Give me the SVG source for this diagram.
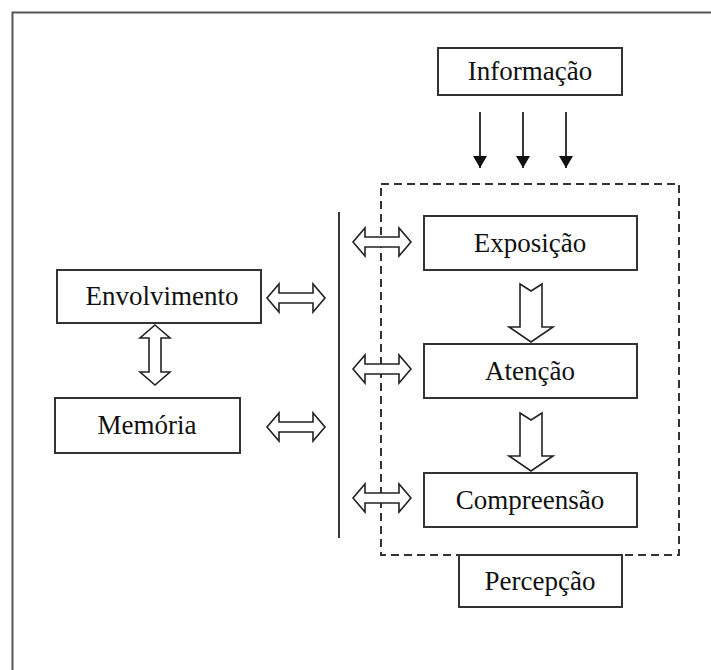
<svg xmlns="http://www.w3.org/2000/svg" width="711" height="670" viewBox="0 0 711 670">
<style>
.box{fill:#fff;stroke:#333;stroke-width:2}
.lbl{font-family:"Liberation Serif","Times New Roman",serif;font-size:27px;fill:#111;text-anchor:middle}
.arr{fill:#fff;stroke:#222;stroke-width:1.6;stroke-linejoin:miter}
.ln{stroke:#222;stroke-width:1.8;fill:none}
</style>
<defs>
<marker id="ah" viewBox="0 0 12 14" refX="12" refY="7" markerWidth="12" markerHeight="14" markerUnits="userSpaceOnUse" orient="auto">
<path d="M0,0 L12,7 L0,14 Z" fill="#111"/>
</marker>
<path id="hdbl" class="arr" d="M-29,0 L-17,-14 L-17,-5 L17,-5 L17,-14 L29,0 L17,14 L17,5 L-17,5 L-17,14 Z"/>
<path id="vdbl" class="arr" d="M0,-30 L15,-17 L6,-17 L6,17 L15,17 L0,30 L-15,17 L-6,17 L-6,-17 L-15,-17 Z"/>
<path id="down" class="arr" d="M-11,0 L0,7 L11,0 L11,43 L22,43 L0,58 L-22,43 L-11,43 Z"/>
</defs>
<rect x="12.5" y="12.5" width="720" height="700" fill="none" stroke="#555" stroke-width="2"/>
<rect id="percepcao-area" x="381" y="184" width="298" height="371" fill="none" stroke="#333" stroke-width="2" stroke-dasharray="8 5"/>
<g id="connectors">
<line class="ln" x1="480" y1="112" x2="480" y2="168" marker-end="url(#ah)"/>
<line class="ln" x1="523" y1="112" x2="523" y2="168" marker-end="url(#ah)"/>
<line class="ln" x1="566" y1="112" x2="566" y2="168" marker-end="url(#ah)"/>
<line class="ln" x1="339" y1="212" x2="339" y2="538"/>
<use href="#hdbl" x="296" y="298"/>
<use href="#hdbl" x="296" y="427"/>
<use href="#hdbl" x="382" y="242"/>
<use href="#hdbl" x="382" y="369"/>
<use href="#hdbl" x="382" y="498"/>
<use href="#vdbl" x="155" y="355"/>
<use href="#down" x="531" y="284"/>
<use href="#down" x="531" y="413"/>
</g>
<g id="informacao"><rect class="box" x="438" y="48" width="184" height="47"/><text class="lbl" x="530" y="80">Informação</text></g>
<g id="exposicao"><rect class="box" x="424" y="216" width="213" height="54"/><text class="lbl" x="530" y="252">Exposição</text></g>
<g id="atencao"><rect class="box" x="424" y="344" width="213" height="54"/><text class="lbl" x="530" y="380">Atenção</text></g>
<g id="compreensao"><rect class="box" x="424" y="473" width="213" height="54"/><text class="lbl" x="530" y="509">Compreensão</text></g>
<g id="percepcao"><rect class="box" x="459" y="555" width="163" height="52"/><text class="lbl" x="540" y="590">Percepção</text></g>
<g id="envolvimento"><rect class="box" x="57" y="270" width="204" height="53"/><text class="lbl" x="162" y="305">Envolvimento</text></g>
<g id="memoria"><rect class="box" x="55" y="398" width="185" height="55"/><text class="lbl" x="147" y="434">Memória</text></g>
</svg>
